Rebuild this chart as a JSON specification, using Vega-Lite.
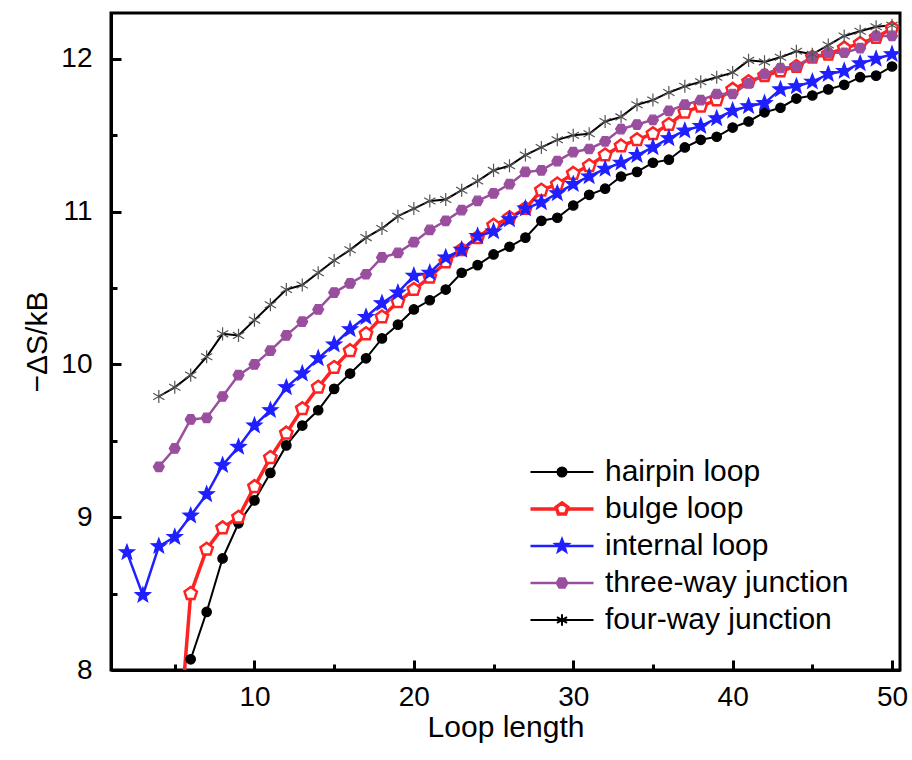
{
  "$schema": "https://vega.github.io/schema/vega-lite/v6.json",
  "width": 789,
  "height": 657,
  "autosize": {"type": "none"},
  "padding": {"left": 111, "top": 13, "right": 12, "bottom": 90},
  "background": "white",
  "config": {
    "font": "Liberation Sans",
    "view": {"stroke": "black", "strokeWidth": 3},
    "axis": {
      "domainColor": "black", "domainWidth": 3, "tickColor": "black", "tickWidth": 3,
      "labelColor": "black", "labelFontSize": 28, "titleFontSize": 30, "titleFontWeight": "normal",
      "titleColor": "black", "grid": false, "labelFont": "Liberation Sans", "titleFont": "Liberation Sans"
    }
  },
  "datasets": {
    "d": [
      {"s":"hairpin loop","x":6,"y":8.07},{"s":"hairpin loop","x":7,"y":8.38},{"s":"hairpin loop","x":8,"y":8.73},{"s":"hairpin loop","x":9,"y":8.96},{"s":"hairpin loop","x":10,"y":9.11},{"s":"hairpin loop","x":11,"y":9.29},{"s":"hairpin loop","x":12,"y":9.47},{"s":"hairpin loop","x":13,"y":9.60},{"s":"hairpin loop","x":14,"y":9.70},{"s":"hairpin loop","x":15,"y":9.84},{"s":"hairpin loop","x":16,"y":9.94},{"s":"hairpin loop","x":17,"y":10.04},{"s":"hairpin loop","x":18,"y":10.17},{"s":"hairpin loop","x":19,"y":10.26},{"s":"hairpin loop","x":20,"y":10.36},{"s":"hairpin loop","x":21,"y":10.42},{"s":"hairpin loop","x":22,"y":10.49},{"s":"hairpin loop","x":23,"y":10.60},{"s":"hairpin loop","x":24,"y":10.65},{"s":"hairpin loop","x":25,"y":10.72},{"s":"hairpin loop","x":26,"y":10.77},{"s":"hairpin loop","x":27,"y":10.83},{"s":"hairpin loop","x":28,"y":10.94},{"s":"hairpin loop","x":29,"y":10.96},{"s":"hairpin loop","x":30,"y":11.04},{"s":"hairpin loop","x":31,"y":11.11},{"s":"hairpin loop","x":32,"y":11.15},{"s":"hairpin loop","x":33,"y":11.23},{"s":"hairpin loop","x":34,"y":11.26},{"s":"hairpin loop","x":35,"y":11.32},{"s":"hairpin loop","x":36,"y":11.34},{"s":"hairpin loop","x":37,"y":11.42},{"s":"hairpin loop","x":38,"y":11.47},{"s":"hairpin loop","x":39,"y":11.49},{"s":"hairpin loop","x":40,"y":11.55},{"s":"hairpin loop","x":41,"y":11.59},{"s":"hairpin loop","x":42,"y":11.65},{"s":"hairpin loop","x":43,"y":11.68},{"s":"hairpin loop","x":44,"y":11.74},{"s":"hairpin loop","x":45,"y":11.76},{"s":"hairpin loop","x":46,"y":11.80},{"s":"hairpin loop","x":47,"y":11.83},{"s":"hairpin loop","x":48,"y":11.88},{"s":"hairpin loop","x":49,"y":11.89},{"s":"hairpin loop","x":50,"y":11.95},

      {"s":"bulge loop","x":5,"y":7.2},{"s":"bulge loop","x":6,"y":8.50},{"s":"bulge loop","x":7,"y":8.79},{"s":"bulge loop","x":8,"y":8.93},{"s":"bulge loop","x":9,"y":9.00},{"s":"bulge loop","x":10,"y":9.20},{"s":"bulge loop","x":11,"y":9.39},{"s":"bulge loop","x":12,"y":9.55},{"s":"bulge loop","x":13,"y":9.71},{"s":"bulge loop","x":14,"y":9.85},{"s":"bulge loop","x":15,"y":9.98},{"s":"bulge loop","x":16,"y":10.09},{"s":"bulge loop","x":17,"y":10.20},{"s":"bulge loop","x":18,"y":10.31},{"s":"bulge loop","x":19,"y":10.41},{"s":"bulge loop","x":20,"y":10.49},{"s":"bulge loop","x":21,"y":10.57},{"s":"bulge loop","x":22,"y":10.67},{"s":"bulge loop","x":23,"y":10.75},{"s":"bulge loop","x":24,"y":10.83},{"s":"bulge loop","x":25,"y":10.91},{"s":"bulge loop","x":26,"y":10.96},{"s":"bulge loop","x":27,"y":11.02},{"s":"bulge loop","x":28,"y":11.14},{"s":"bulge loop","x":29,"y":11.18},{"s":"bulge loop","x":30,"y":11.25},{"s":"bulge loop","x":31,"y":11.30},{"s":"bulge loop","x":32,"y":11.37},{"s":"bulge loop","x":33,"y":11.43},{"s":"bulge loop","x":34,"y":11.47},{"s":"bulge loop","x":35,"y":11.51},{"s":"bulge loop","x":36,"y":11.57},{"s":"bulge loop","x":37,"y":11.65},{"s":"bulge loop","x":38,"y":11.69},{"s":"bulge loop","x":39,"y":11.73},{"s":"bulge loop","x":40,"y":11.80},{"s":"bulge loop","x":41,"y":11.85},{"s":"bulge loop","x":42,"y":11.89},{"s":"bulge loop","x":43,"y":11.92},{"s":"bulge loop","x":44,"y":11.95},{"s":"bulge loop","x":45,"y":12.01},{"s":"bulge loop","x":46,"y":12.03},{"s":"bulge loop","x":47,"y":12.07},{"s":"bulge loop","x":48,"y":12.10},{"s":"bulge loop","x":49,"y":12.14},{"s":"bulge loop","x":50,"y":12.20},

      {"s":"internal loop","x":2,"y":8.77},{"s":"internal loop","x":3,"y":8.49},{"s":"internal loop","x":4,"y":8.81},{"s":"internal loop","x":5,"y":8.87},{"s":"internal loop","x":6,"y":9.01},{"s":"internal loop","x":7,"y":9.15},{"s":"internal loop","x":8,"y":9.34},{"s":"internal loop","x":9,"y":9.46},{"s":"internal loop","x":10,"y":9.60},{"s":"internal loop","x":11,"y":9.70},{"s":"internal loop","x":12,"y":9.85},{"s":"internal loop","x":13,"y":9.94},{"s":"internal loop","x":14,"y":10.04},{"s":"internal loop","x":15,"y":10.13},{"s":"internal loop","x":16,"y":10.23},{"s":"internal loop","x":17,"y":10.31},{"s":"internal loop","x":18,"y":10.40},{"s":"internal loop","x":19,"y":10.47},{"s":"internal loop","x":20,"y":10.58},{"s":"internal loop","x":21,"y":10.60},{"s":"internal loop","x":22,"y":10.70},{"s":"internal loop","x":23,"y":10.75},{"s":"internal loop","x":24,"y":10.84},{"s":"internal loop","x":25,"y":10.87},{"s":"internal loop","x":26,"y":10.95},{"s":"internal loop","x":27,"y":11.02},{"s":"internal loop","x":28,"y":11.06},{"s":"internal loop","x":29,"y":11.12},{"s":"internal loop","x":30,"y":11.18},{"s":"internal loop","x":31,"y":11.23},{"s":"internal loop","x":32,"y":11.28},{"s":"internal loop","x":33,"y":11.32},{"s":"internal loop","x":34,"y":11.37},{"s":"internal loop","x":35,"y":11.42},{"s":"internal loop","x":36,"y":11.48},{"s":"internal loop","x":37,"y":11.53},{"s":"internal loop","x":38,"y":11.56},{"s":"internal loop","x":39,"y":11.61},{"s":"internal loop","x":40,"y":11.66},{"s":"internal loop","x":41,"y":11.69},{"s":"internal loop","x":42,"y":11.71},{"s":"internal loop","x":43,"y":11.80},{"s":"internal loop","x":44,"y":11.82},{"s":"internal loop","x":45,"y":11.85},{"s":"internal loop","x":46,"y":11.90},{"s":"internal loop","x":47,"y":11.92},{"s":"internal loop","x":48,"y":11.97},{"s":"internal loop","x":49,"y":12.00},{"s":"internal loop","x":50,"y":12.03},

      {"s":"three-way junction","x":4,"y":9.33},{"s":"three-way junction","x":5,"y":9.45},{"s":"three-way junction","x":6,"y":9.64},{"s":"three-way junction","x":7,"y":9.65},{"s":"three-way junction","x":8,"y":9.79},{"s":"three-way junction","x":9,"y":9.93},{"s":"three-way junction","x":10,"y":10.00},{"s":"three-way junction","x":11,"y":10.09},{"s":"three-way junction","x":12,"y":10.19},{"s":"three-way junction","x":13,"y":10.28},{"s":"three-way junction","x":14,"y":10.36},{"s":"three-way junction","x":15,"y":10.47},{"s":"three-way junction","x":16,"y":10.53},{"s":"three-way junction","x":17,"y":10.59},{"s":"three-way junction","x":18,"y":10.70},{"s":"three-way junction","x":19,"y":10.73},{"s":"three-way junction","x":20,"y":10.80},{"s":"three-way junction","x":21,"y":10.88},{"s":"three-way junction","x":22,"y":10.94},{"s":"three-way junction","x":23,"y":11.01},{"s":"three-way junction","x":24,"y":11.07},{"s":"three-way junction","x":25,"y":11.12},{"s":"three-way junction","x":26,"y":11.18},{"s":"three-way junction","x":27,"y":11.26},{"s":"three-way junction","x":28,"y":11.27},{"s":"three-way junction","x":29,"y":11.33},{"s":"three-way junction","x":30,"y":11.39},{"s":"three-way junction","x":31,"y":11.41},{"s":"three-way junction","x":32,"y":11.46},{"s":"three-way junction","x":33,"y":11.54},{"s":"three-way junction","x":34,"y":11.57},{"s":"three-way junction","x":35,"y":11.60},{"s":"three-way junction","x":36,"y":11.66},{"s":"three-way junction","x":37,"y":11.70},{"s":"three-way junction","x":38,"y":11.73},{"s":"three-way junction","x":39,"y":11.77},{"s":"three-way junction","x":40,"y":11.77},{"s":"three-way junction","x":41,"y":11.84},{"s":"three-way junction","x":42,"y":11.90},{"s":"three-way junction","x":43,"y":11.94},{"s":"three-way junction","x":44,"y":11.95},{"s":"three-way junction","x":45,"y":12.01},{"s":"three-way junction","x":46,"y":12.04},{"s":"three-way junction","x":47,"y":12.04},{"s":"three-way junction","x":48,"y":12.07},{"s":"three-way junction","x":49,"y":12.15},{"s":"three-way junction","x":50,"y":12.15},

      {"s":"four-way junction","x":4,"y":9.79},{"s":"four-way junction","x":5,"y":9.85},{"s":"four-way junction","x":6,"y":9.93},{"s":"four-way junction","x":7,"y":10.05},{"s":"four-way junction","x":8,"y":10.20},{"s":"four-way junction","x":9,"y":10.19},{"s":"four-way junction","x":10,"y":10.29},{"s":"four-way junction","x":11,"y":10.39},{"s":"four-way junction","x":12,"y":10.49},{"s":"four-way junction","x":13,"y":10.52},{"s":"four-way junction","x":14,"y":10.60},{"s":"four-way junction","x":15,"y":10.68},{"s":"four-way junction","x":16,"y":10.75},{"s":"four-way junction","x":17,"y":10.83},{"s":"four-way junction","x":18,"y":10.89},{"s":"four-way junction","x":19,"y":10.97},{"s":"four-way junction","x":20,"y":11.02},{"s":"four-way junction","x":21,"y":11.07},{"s":"four-way junction","x":22,"y":11.08},{"s":"four-way junction","x":23,"y":11.14},{"s":"four-way junction","x":24,"y":11.20},{"s":"four-way junction","x":25,"y":11.27},{"s":"four-way junction","x":26,"y":11.30},{"s":"four-way junction","x":27,"y":11.37},{"s":"four-way junction","x":28,"y":11.42},{"s":"four-way junction","x":29,"y":11.47},{"s":"four-way junction","x":30,"y":11.50},{"s":"four-way junction","x":31,"y":11.51},{"s":"four-way junction","x":32,"y":11.59},{"s":"four-way junction","x":33,"y":11.62},{"s":"four-way junction","x":34,"y":11.70},{"s":"four-way junction","x":35,"y":11.73},{"s":"four-way junction","x":36,"y":11.78},{"s":"four-way junction","x":37,"y":11.82},{"s":"four-way junction","x":38,"y":11.85},{"s":"four-way junction","x":39,"y":11.88},{"s":"four-way junction","x":40,"y":11.91},{"s":"four-way junction","x":41,"y":11.99},{"s":"four-way junction","x":42,"y":11.98},{"s":"four-way junction","x":43,"y":12.01},{"s":"four-way junction","x":44,"y":12.05},{"s":"four-way junction","x":45,"y":12.03},{"s":"four-way junction","x":46,"y":12.09},{"s":"four-way junction","x":47,"y":12.15},{"s":"four-way junction","x":48,"y":12.18},{"s":"four-way junction","x":49,"y":12.21},{"s":"four-way junction","x":50,"y":12.22}
    ]
  },
  "data": {"name": "d"},
  "encoding": {
    "x": {
      "field": "x", "type": "quantitative",
      "scale": {"domain": [1, 50.5], "nice": false, "zero": false},
      "axis": {
        "values": [5, 10, 15, 20, 25, 30, 35, 40, 45, 50],
        "labelExpr": "datum.value % 10 === 0 ? datum.label : ''",
        "tickSize": {"condition": {"test": "datum.value % 10 === 0", "value": -10}, "value": -6},
        "labelPadding": 23,
        "title": "Loop length",
        "titlePadding": 1
      }
    },
    "y": {
      "field": "y", "type": "quantitative",
      "scale": {"domain": [8, 12.3], "nice": false, "zero": false},
      "axis": {
        "values": [8, 8.5, 9, 9.5, 10, 10.5, 11, 11.5, 12],
        "labelExpr": "datum.value % 1 === 0 ? format(datum.value, 'd') : ''",
        "tickSize": {"condition": {"test": "datum.value % 1 === 0", "value": -10}, "value": -6},
        "labelPadding": 29,
        "title": "−ΔS/kB",
        "titlePadding": 8
      }
    }
  },
  "layer": [
    {
      "mark": {"type": "line", "clip": true},
      "encoding": {
        "color": {
          "field": "s", "type": "nominal",
          "scale": {
            "domain": ["hairpin loop", "bulge loop", "internal loop", "three-way junction", "four-way junction"],
            "range": ["#000000", "#ff2222", "#1f1fff", "#9a4f9e", "#000000"]
          },
          "legend": {
            "orient": "none", "legendX": 436, "legendY": 444, "title": null,
            "symbolSize": 169, "labelFontSize": 30, "labelOffset": 28, "rowPadding": 7, "padding": 0,
            "labelFont": "Liberation Sans", "labelColor": "black", "labelLimit": 400,
            "encode": {
              "symbols": {
                "update": {
                  "shape": {"signal": "datum.value === 'hairpin loop' ? 'M-4.85,0L4.85,0M0.7,0A0.7,0.7,0,1,1,-0.7,0A0.7,0.7,0,1,1,0.7,0Z' : datum.value === 'bulge loop' ? 'M-4.85,0L-0.9,0M0.9,0L4.85,0M0,-0.95L0.9,-0.29L0.56,0.77L-0.56,0.77L-0.9,-0.29Z' : datum.value === 'internal loop' ? 'M-4.85,0L4.85,0M0,-1L0.247,-0.34L0.951,-0.309L0.399,0.13L0.588,0.809L0,0.42L-0.588,0.809L-0.399,0.13L-0.951,-0.309L-0.247,-0.34Z' : datum.value === 'three-way junction' ? 'M-4.85,0L4.85,0M0.8,0L0.4,0.69L-0.4,0.69L-0.8,0L-0.4,-0.69L0.4,-0.69Z' : 'M-4.85,0L4.85,0M0,-0.9L0,0.9M-0.78,-0.45L0.78,0.45M-0.78,0.45L0.78,-0.45'"},
                  "fill": {"signal": "datum.value === 'hairpin loop' ? '#000000' : datum.value === 'bulge loop' ? '#ffffff' : datum.value === 'internal loop' ? '#1f1fff' : datum.value === 'three-way junction' ? '#9a4f9e' : 'transparent'"},
                  "stroke": {"signal": "datum.value === 'hairpin loop' ? '#000000' : datum.value === 'bulge loop' ? '#ff2222' : datum.value === 'internal loop' ? '#1f1fff' : datum.value === 'three-way junction' ? '#9a4f9e' : '#000000'"},
                  "strokeWidth": {"signal": "datum.value === 'bulge loop' ? 3.5 : datum.value === 'hairpin loop' || datum.value === 'four-way junction' ? 2 : 2.5"},
                  "opacity": {"value": 1}
                }
              }
            }
          }
        },
        "strokeWidth": {
          "condition": [
            {"test": "datum.s === 'bulge loop'", "value": 3.5},
            {"test": "datum.s === 'internal loop' || datum.s === 'three-way junction'", "value": 2.5}
          ],
          "value": 2
        }
      }
    },
    {
      "mark": {"type": "point", "clip": true, "opacity": 1},
      "encoding": {
        "shape": {
          "condition": [
            {"test": "datum.s === 'hairpin loop'", "value": "circle"},
            {"test": "datum.s === 'bulge loop'", "value": "M0,-1L0.951,-0.309L0.588,0.809L-0.588,0.809L-0.951,-0.309Z"},
            {"test": "datum.s === 'internal loop'", "value": "M0,-1L0.247,-0.34L0.951,-0.309L0.399,0.13L0.588,0.809L0,0.42L-0.588,0.809L-0.399,0.13L-0.951,-0.309L-0.247,-0.34Z"},
            {"test": "datum.s === 'three-way junction'", "value": "M1,0L0.5,0.866L-0.5,0.866L-1,0L-0.5,-0.866L0.5,-0.866Z"}
          ],
          "value": "M0,-1L0,1M-0.866,-0.5L0.866,0.5M-0.866,0.5L0.866,-0.5"
        },
        "fill": {
          "field": "s", "type": "nominal", "legend": null,
          "scale": {
            "domain": ["hairpin loop", "bulge loop", "internal loop", "three-way junction", "four-way junction"],
            "range": ["#000000", "#ffffff", "#1f1fff", "#9a4f9e", "transparent"]
          }
        },
        "stroke": {
          "field": "s", "type": "nominal", "legend": null,
          "scale": {
            "domain": ["hairpin loop", "bulge loop", "internal loop", "three-way junction", "four-way junction"],
            "range": ["#000000", "#ff2222", "#1f1fff", "#9a4f9e", "#555555"]
          }
        },
        "size": {
          "condition": [
            {"test": "datum.s === 'hairpin loop'", "value": 90},
            {"test": "datum.s === 'bulge loop'", "value": 170},
            {"test": "datum.s === 'internal loop'", "value": 256},
            {"test": "datum.s === 'three-way junction'", "value": 120}
          ],
          "value": 170
        },
        "strokeWidth": {
          "condition": [
            {"test": "datum.s === 'bulge loop'", "value": 2.5}
          ],
          "value": 1.2
        }
      }
    }
  ]
}
